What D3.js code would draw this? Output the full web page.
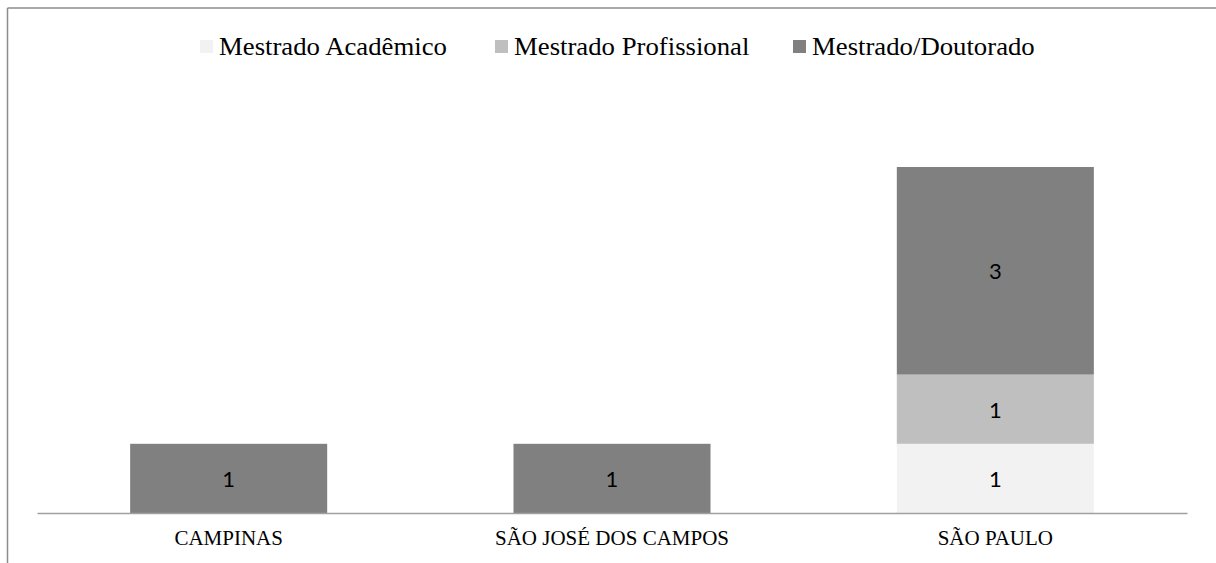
<!DOCTYPE html>
<html>
<head>
<meta charset="utf-8">
<script src="https://cdn.jsdelivr.net/npm/d3@7/dist/d3.min.js"></script>
<style>
  html, body { margin: 0; padding: 0; background: #fff; }
  svg { display: block; }
</style>
</head>
<body>
<svg id="chart" width="1216" height="563"></svg>
<script>
// Cities and program counts per type
const cities = ["CAMPINAS", "SÃO JOSÉ DOS CAMPOS", "SÃO PAULO"];
const seriesNames = ["Mestrado Acadêmico", "Mestrado Profissional", "Mestrado/Doutorado"];
const mestradoAcademico = [0, 0, 1];
const mestradoProfissional = [0, 0, 1];
const mestradoDoutorado = [1, 1, 3];
const seriesColors = ["#f2f2f2", "#bfbfbf", "#808080"];

const svg = d3.select("#chart");
const W = 1216, H = 563;

// Outer frame (top and left edges visible)
svg.append("line").attr("x1", 7.5).attr("y1", 8).attr("x2", W).attr("y2", 8)
  .attr("stroke", "#8c8c8c").attr("stroke-width", 1.5);
svg.append("line").attr("x1", 7.5).attr("y1", 8).attr("x2", 7.5).attr("y2", H)
  .attr("stroke", "#8c8c8c").attr("stroke-width", 1.5);

const plot = { left: 37, right: 1187, bottom: 513 };

const x = d3.scaleBand().domain(cities).range([plot.left, plot.right])
  .paddingInner(0.486).paddingOuter(0.243);
const y = d3.scaleLinear().domain([0, 5]).range([plot.bottom, 167]);

const table = cities.map((c, i) => ({
  city: c,
  [seriesNames[0]]: mestradoAcademico[i],
  [seriesNames[1]]: mestradoProfissional[i],
  [seriesNames[2]]: mestradoDoutorado[i]
}));
const stacked = d3.stack().keys(seriesNames)(table);

const layers = svg.append("g").selectAll("g").data(stacked).join("g")
  .attr("fill", (d, i) => seriesColors[i]);

layers.selectAll("rect").data(d => d.filter(s => s[1] - s[0] > 0)).join("rect")
  .attr("x", d => x(d.data.city))
  .attr("width", x.bandwidth())
  .attr("y", d => y(d[1]))
  .attr("height", d => y(d[0]) - y(d[1]));

layers.selectAll("text").data(d => d.filter(s => s[1] - s[0] > 0)).join("text")
  .attr("x", d => x(d.data.city) + x.bandwidth() / 2)
  .attr("y", d => (y(d[0]) + y(d[1])) / 2)
  .attr("text-anchor", "middle")
  .attr("dominant-baseline", "central")
  .attr("fill", "#000")
  .attr("font-family", "Lato, 'Open Sans', sans-serif")
  .attr("font-size", 22)
  .text(d => d[1] - d[0]);

// Category axis
const xAxis = svg.append("g").attr("transform", `translate(0,${plot.bottom})`)
  .call(d3.axisBottom(x).tickSize(0).tickPadding(0));
xAxis.select(".domain").attr("stroke", "#a0a0a0").attr("stroke-width", 1.5);
xAxis.selectAll("text")
  .attr("font-family", "'Liberation Serif', 'Times New Roman', serif")
  .attr("font-size", 21)
  .attr("fill", "#000")
  .attr("dy", 0)
  .attr("y", 32);

// Legend
const legendX = [200, 495, 793];
const legend = svg.append("g").selectAll("g").data(seriesNames).join("g")
  .attr("transform", (d, i) => `translate(${legendX[i]},40)`);
legend.append("rect").attr("width", 13).attr("height", 13)
  .attr("fill", (d, i) => seriesColors[i]);
legend.append("text")
  .attr("transform", "translate(19,14.5) scale(1.07,1)")
  .attr("font-family", "'Liberation Serif', 'Times New Roman', serif")
  .attr("font-size", 25)
  .attr("fill", "#000")
  .text(d => d);
</script>
</body>
</html>
